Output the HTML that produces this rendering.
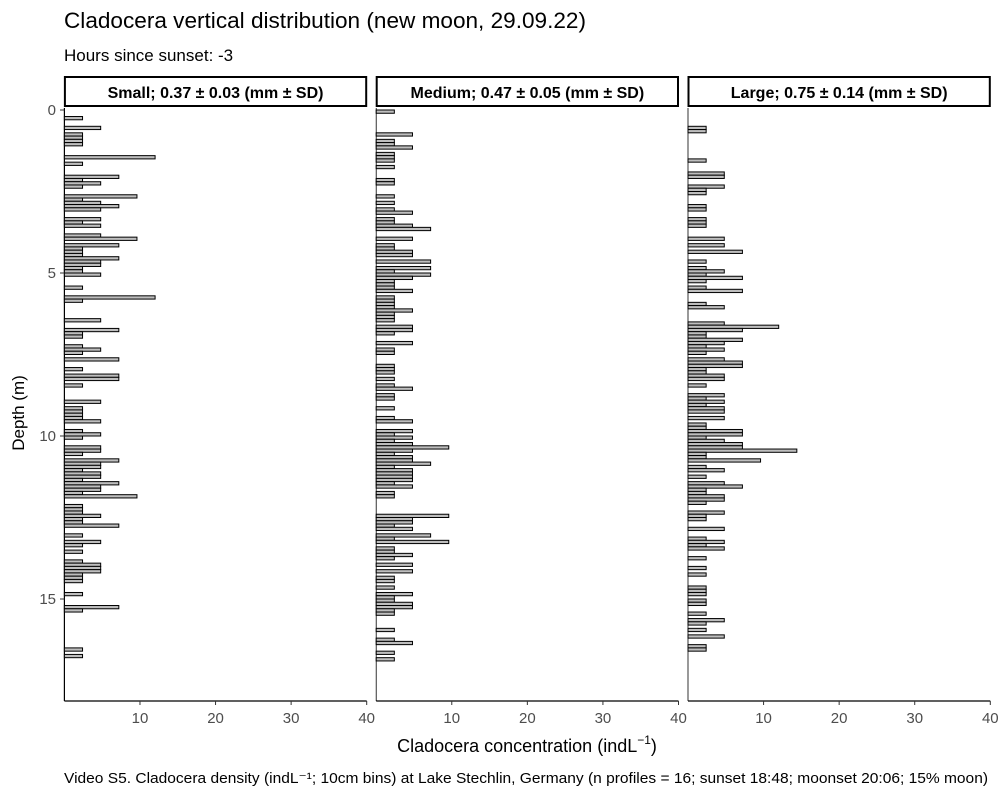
<!DOCTYPE html>
<html><head><meta charset="utf-8"><style>
body{margin:0;background:#fff;}
svg text{font-family:"Liberation Sans",Arial,sans-serif;}
</style></head><body>
<svg id="chart" width="1000" height="800" viewBox="0 0 1000 800" xmlns="http://www.w3.org/2000/svg">
<text x="64" y="28" font-size="22.5" fill="#000" textLength="522" lengthAdjust="spacingAndGlyphs">Cladocera vertical distribution (new moon, 29.09.22)</text>
<text x="64" y="61" font-size="17" fill="#000">Hours since sunset: -3</text>
<text transform="translate(24,413) rotate(-90)" text-anchor="middle" font-size="17" fill="#000">Depth (m)</text>
<text x="527" y="752" text-anchor="middle" font-size="18" fill="#000">Cladocera concentration (indL<tspan dy="-8" font-size="12">−1</tspan><tspan dy="8">)</tspan></text>
<text x="64" y="783" font-size="15" fill="#000" textLength="924" lengthAdjust="spacingAndGlyphs">Video S5. Cladocera density (indL⁻¹; 10cm bins) at Lake Stechlin, Germany (n profiles = 16; sunset 18:48; moonset 20:06; 15% moon)</text>
<g id="plots"></g>
</svg>
<script>
const panelTitles = ["Small; 0.37 ± 0.03 (mm ± SD)", "Medium; 0.47 ± 0.05 (mm ± SD)", "Large; 0.75 ± 0.14 (mm ± SD)"];
const xTicks = [10, 20, 30, 40];
const yTicks = [0, 5, 10, 15];
const smallDepth = [0.2,0.5,0.7,0.8,0.9,1.0,1.4,1.6,2.0,2.1,2.2,2.3,2.6,2.7,2.8,2.9,3.0,3.3,3.4,3.5,3.8,3.9,4.1,4.2,4.3,4.4,4.5,4.6,4.7,4.8,4.9,5.0,5.4,5.7,5.8,6.4,6.7,6.8,6.9,7.2,7.3,7.4,7.6,7.9,8.1,8.2,8.4,8.9,9.1,9.2,9.3,9.4,9.5,9.8,9.9,10.0,10.3,10.4,10.5,10.7,10.8,10.9,11.0,11.1,11.2,11.3,11.4,11.5,11.6,11.7,11.8,12.1,12.2,12.3,12.4,12.5,12.6,12.7,13.0,13.2,13.3,13.5,13.8,13.9,14.0,14.1,14.2,14.3,14.4,14.8,15.2,15.3,16.5,16.7];
const smallConc = [2.4,4.8,2.4,2.4,2.4,2.4,12,2.4,7.2,2.4,4.8,2.4,9.6,2.4,4.8,7.2,4.8,4.8,2.4,4.8,4.8,9.6,7.2,2.4,2.4,2.4,7.2,4.8,4.8,2.4,2.4,4.8,2.4,12,2.4,4.8,7.2,2.4,2.4,2.4,4.8,2.4,7.2,2.4,7.2,7.2,2.4,4.8,2.4,2.4,2.4,2.4,4.8,2.4,4.8,2.4,4.8,4.8,2.4,7.2,4.8,4.8,2.4,4.8,4.8,2.4,7.2,4.8,4.8,2.4,9.6,2.4,2.4,2.4,4.8,2.4,2.4,7.2,2.4,4.8,2.4,2.4,2.4,4.8,4.8,4.8,2.4,2.4,2.4,2.4,7.2,2.4,2.4,2.4];
const mediumDepth = [0.0,0.7,0.9,1.0,1.1,1.3,1.4,1.5,1.7,2.1,2.2,2.6,2.8,3.0,3.1,3.3,3.4,3.5,3.6,3.9,4.1,4.2,4.3,4.4,4.6,4.8,4.9,5.0,5.1,5.2,5.3,5.4,5.5,5.7,5.8,5.9,6.0,6.1,6.2,6.3,6.4,6.6,6.7,6.8,7.1,7.3,7.4,7.8,7.9,8.0,8.2,8.4,8.5,8.7,8.8,9.1,9.4,9.5,9.8,9.9,10.0,10.1,10.2,10.3,10.4,10.5,10.6,10.7,10.8,10.9,11.0,11.1,11.2,11.3,11.4,11.5,11.7,11.8,12.4,12.5,12.6,12.7,12.8,13.0,13.1,13.2,13.4,13.5,13.6,13.7,13.9,14.1,14.3,14.4,14.6,14.8,14.9,15.0,15.1,15.2,15.3,15.4,15.9,16.2,16.3,16.6,16.8];
const mediumConc = [2.4,4.8,2.4,2.4,4.8,2.4,2.4,2.4,2.4,2.4,2.4,2.4,2.4,2.4,4.8,2.4,2.4,4.8,7.2,4.8,2.4,2.4,4.8,4.8,7.2,7.2,2.4,7.2,4.8,2.4,2.4,2.4,4.8,2.4,2.4,2.4,2.4,4.8,2.4,2.4,2.4,4.8,4.8,2.4,4.8,2.4,2.4,2.4,2.4,2.4,2.4,2.4,4.8,2.4,2.4,2.4,2.4,4.8,4.8,2.4,4.8,2.4,4.8,9.6,4.8,2.4,4.8,4.8,7.2,2.4,4.8,4.8,4.8,4.8,2.4,4.8,2.4,2.4,9.6,4.8,4.8,2.4,4.8,7.2,2.4,9.6,2.4,2.4,4.8,2.4,4.8,4.8,2.4,2.4,2.4,4.8,2.4,2.4,4.8,4.8,2.4,2.4,2.4,2.4,4.8,2.4,2.4];
const largeDepth = [0.5,0.6,1.5,1.9,2.0,2.3,2.4,2.5,2.9,3.0,3.3,3.4,3.5,3.9,4.1,4.3,4.6,4.8,4.9,5.0,5.1,5.2,5.4,5.5,5.9,6.0,6.5,6.6,6.7,6.8,6.9,7.0,7.1,7.2,7.3,7.4,7.6,7.7,7.8,7.9,8.0,8.1,8.2,8.4,8.7,8.8,8.9,9.0,9.1,9.2,9.4,9.6,9.7,9.8,9.9,10.0,10.1,10.2,10.3,10.4,10.5,10.6,10.7,10.9,11.0,11.2,11.4,11.5,11.6,11.7,11.8,11.9,12.0,12.3,12.4,12.5,12.8,13.1,13.2,13.3,13.4,13.7,14.0,14.2,14.6,14.7,14.8,15.0,15.1,15.4,15.6,15.7,15.9,16.1,16.4,16.5];
const largeConc = [2.4,2.4,2.4,4.8,4.8,4.8,2.4,2.4,2.4,2.4,2.4,2.4,2.4,4.8,4.8,7.2,2.4,2.4,4.8,2.4,7.2,2.4,2.4,7.2,2.4,4.8,4.8,12,7.2,2.4,2.4,7.2,4.8,2.4,4.8,2.4,4.8,7.2,7.2,2.4,2.4,4.8,4.8,2.4,4.8,2.4,4.8,2.4,4.8,4.8,4.8,2.4,2.4,7.2,7.2,2.4,4.8,7.2,7.2,14.4,2.4,2.4,9.6,2.4,4.8,2.4,4.8,7.2,2.4,2.4,4.8,4.8,2.4,4.8,2.4,2.4,4.8,2.4,4.8,2.4,4.8,2.4,2.4,2.4,2.4,2.4,2.4,2.4,2.4,2.4,4.8,2.4,2.4,4.8,2.4,2.4];

const NS = "http://www.w3.org/2000/svg";
const g = document.getElementById("plots");
const panelX0 = [64.4, 376.2, 688.0];
const panelW = 302.3, plotTop = 108, plotBottom = 701, binH = 0.1;
function xScale(p, v) { return panelX0[p] + v * (panelW / 40); }
function yScale(d) { return 110 + 32.6 * d; }
function mk(tag, attrs, parent) {
  const e = document.createElementNS(NS, tag);
  for (const k in attrs) e.setAttribute(k, attrs[k]);
  (parent || g).appendChild(e);
  return e;
}
const depths = [smallDepth, mediumDepth, largeDepth];
const concs = [smallConc, mediumConc, largeConc];
const keys = ["small", "medium", "large"];
for (let p = 0; p < 3; p++) {
  const x0 = panelX0[p];
  const strip = mk("rect", {x: x0 + 0.5, y: 77, width: panelW - 1, height: 29, fill: "#fff", stroke: "#000", "stroke-width": 2});
  
  
  const st = mk("text", {x: x0 + panelW / 2, y: 98, "text-anchor": "middle", "font-size": 16, "font-weight": "bold", fill: "#000"});
  st.textContent = panelTitles[p];
  
  
  const zl = mk("line", {x1: x0, x2: x0, y1: plotTop, y2: plotBottom, stroke: "#000", "stroke-width": p === 0 ? 1.2 : 0.8});
  
  
  for (let i = 0; i < depths[p].length; i++) {
    const d = depths[p][i], v = concs[p][i];
    const y1 = yScale(d), y2 = yScale(d + binH);
    const b = mk("rect", {x: x0, y: y1, width: xScale(p, v) - x0, height: y2 - y1, fill: "#bebebe", stroke: "#000", "stroke-width": 1});
    
    
  }
  const xa = mk("line", {x1: x0, x2: x0 + panelW, y1: plotBottom, y2: plotBottom, stroke: "#000", "stroke-width": 1.2});
  
  
  for (const t of xTicks) {
    const tx = xScale(p, t);
    const tk = mk("line", {x1: tx, x2: tx, y1: plotBottom, y2: plotBottom + 4, stroke: "#333", "stroke-width": 1});
    
    
    const tl = mk("text", {x: tx, y: 723, "text-anchor": "middle", "font-size": 15, fill: "#4d4d4d"});
    tl.textContent = t;
    
    
  }
}
for (const t of yTicks) {
  const ty = yScale(t);
  const tk = mk("line", {x1: 60, x2: 64.4, y1: ty, y2: ty, stroke: "#333", "stroke-width": 1});
  
  
  const tl = mk("text", {x: 56, y: ty + 5, "text-anchor": "end", "font-size": 15, fill: "#4d4d4d"});
  tl.textContent = t;
  
  
}
</script>
</body></html>
